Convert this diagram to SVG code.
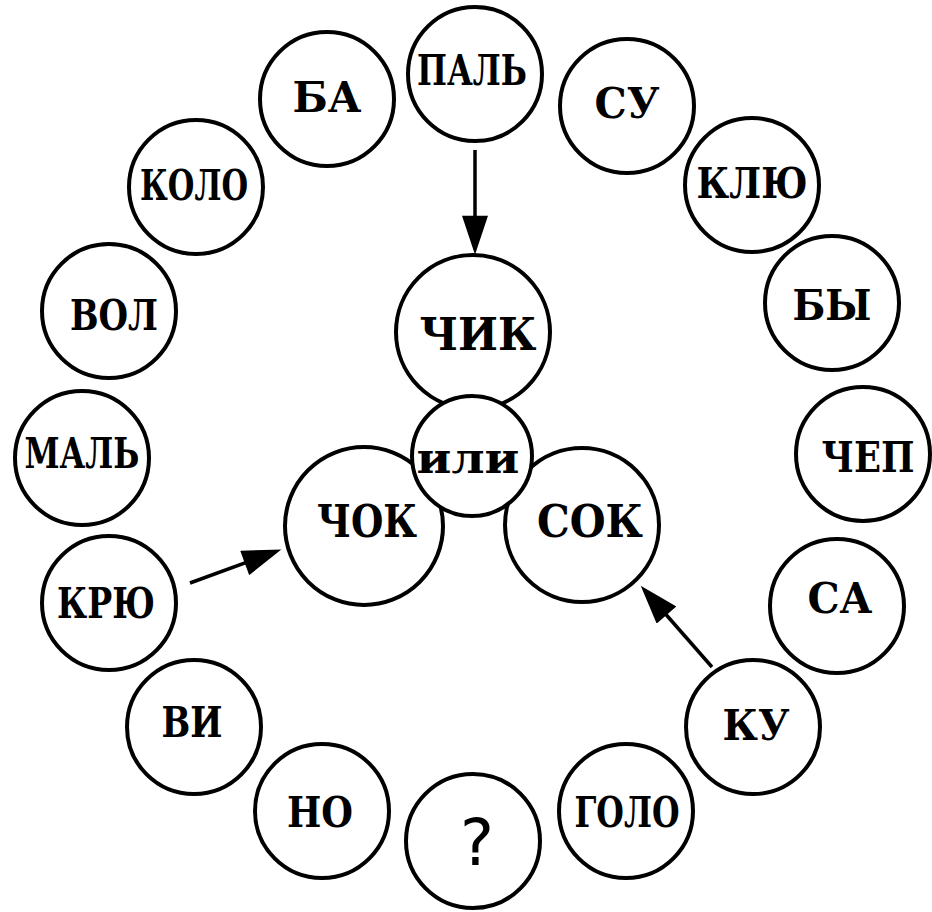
<svg xmlns="http://www.w3.org/2000/svg" width="932" height="912" viewBox="0 0 932 912">
<style>
  .c { fill: #fff; stroke: #000; stroke-width: 4; }
  .t { font-family: "DejaVu Serif", "Liberation Serif", serif; font-weight: bold; font-size: 42px; text-anchor: middle; fill: #000; }
  .big { font-size: 45px; }
  .q { font-family: "DejaVu Sans", sans-serif; font-weight: normal; font-size: 64px; }
  .a { stroke: #000; stroke-width: 3.5; fill: none; }
</style>
<defs>
  <marker id="ah" markerUnits="userSpaceOnUse" markerWidth="40" markerHeight="26" viewBox="0 0 36 24" refX="16" refY="12" orient="auto">
    <path d="M0,0 L36,12 L0,24 Z" fill="#000"/>
  </marker>
</defs>
<rect width="932" height="912" fill="#fff"/>

<g id="n-pal"><circle class="c" cx="475" cy="74" r="67"/><text class="t" x="472" y="85" font-size="32" textLength="110" lengthAdjust="spacingAndGlyphs">ПАЛЬ</text></g>
<g id="n-ba"><circle class="c" cx="327" cy="99" r="67"/><text class="t" x="327" y="112" textLength="69" lengthAdjust="spacingAndGlyphs">БА</text></g>
<g id="n-su"><circle class="c" cx="627" cy="106" r="67"/><text class="t" x="627" y="118" textLength="65" lengthAdjust="spacingAndGlyphs">СУ</text></g>
<g id="n-kolo"><circle class="c" cx="196" cy="187" r="67"/><text class="t" x="194" y="200" font-size="39" textLength="108" lengthAdjust="spacingAndGlyphs">КОЛО</text></g>
<g id="n-klyu"><circle class="c" cx="752" cy="185" r="67"/><text class="t" x="752" y="198" textLength="111" lengthAdjust="spacingAndGlyphs">КЛЮ</text></g>
<g id="n-vol"><circle class="c" cx="109" cy="311" r="67"/><text class="t" x="114" y="330" textLength="88" lengthAdjust="spacingAndGlyphs">ВОЛ</text></g>
<g id="n-by"><circle class="c" cx="832" cy="303" r="67"/><text class="t" x="832" y="320" textLength="79" lengthAdjust="spacingAndGlyphs">БЫ</text></g>
<g id="n-mal"><circle class="c" cx="82" cy="458" r="67"/><text class="t" x="82" y="468" textLength="115" lengthAdjust="spacingAndGlyphs">МАЛЬ</text></g>
<g id="n-chep"><circle class="c" cx="863" cy="454" r="67"/><text class="t" x="868" y="472" textLength="93" lengthAdjust="spacingAndGlyphs">ЧЕП</text></g>
<g id="n-kryu"><circle class="c" cx="109" cy="603" r="67"/><text class="t" x="106" y="618" textLength="98" lengthAdjust="spacingAndGlyphs">КРЮ</text></g>
<g id="n-sa"><circle class="c" cx="837" cy="606" r="67"/><text class="t" x="840" y="613" textLength="65" lengthAdjust="spacingAndGlyphs">СА</text></g>
<g id="n-vi"><circle class="c" cx="194" cy="727" r="67"/><text class="t" x="192" y="737" textLength="61" lengthAdjust="spacingAndGlyphs">ВИ</text></g>
<g id="n-ku"><circle class="c" cx="753" cy="727" r="67"/><text class="t" x="756" y="740" textLength="67" lengthAdjust="spacingAndGlyphs">КУ</text></g>
<g id="n-no"><circle class="c" cx="322" cy="811" r="67"/><text class="t" x="320" y="827" textLength="66" lengthAdjust="spacingAndGlyphs">НО</text></g>
<g id="n-q"><circle class="c" cx="473" cy="841" r="67"/><text class="t q" x="477" y="865">?</text></g>
<g id="n-golo"><circle class="c" cx="626" cy="811" r="67"/><text class="t" x="627" y="827" font-size="40" textLength="105" lengthAdjust="spacingAndGlyphs">ГОЛО</text></g>

<g id="n-chik"><circle class="c" cx="473" cy="332" r="77"/><text class="t big" x="478" y="350" textLength="117" lengthAdjust="spacingAndGlyphs">ЧИК</text></g>
<g id="n-chok"><circle class="c" cx="364" cy="526" r="79"/><text class="t big" x="367" y="537" textLength="100" lengthAdjust="spacingAndGlyphs">ЧОК</text></g>
<g id="n-sok"><circle class="c" cx="582" cy="525" r="77"/><text class="t big" x="590" y="537" textLength="106" lengthAdjust="spacingAndGlyphs">СОК</text></g>
<g id="n-ili"><circle class="c" cx="472" cy="456" r="60"/><text class="t" x="468" y="473" font-size="44" textLength="103" lengthAdjust="spacingAndGlyphs">или</text></g>

<g id="connectors">
  <line class="a" x1="475" y1="150" x2="475" y2="233" marker-end="url(#ah)"/>
  <line class="a" x1="190" y1="583" x2="261" y2="557" marker-end="url(#ah)"/>
  <line class="a" x1="712" y1="667" x2="655" y2="602" marker-end="url(#ah)"/>
</g>
</svg>
